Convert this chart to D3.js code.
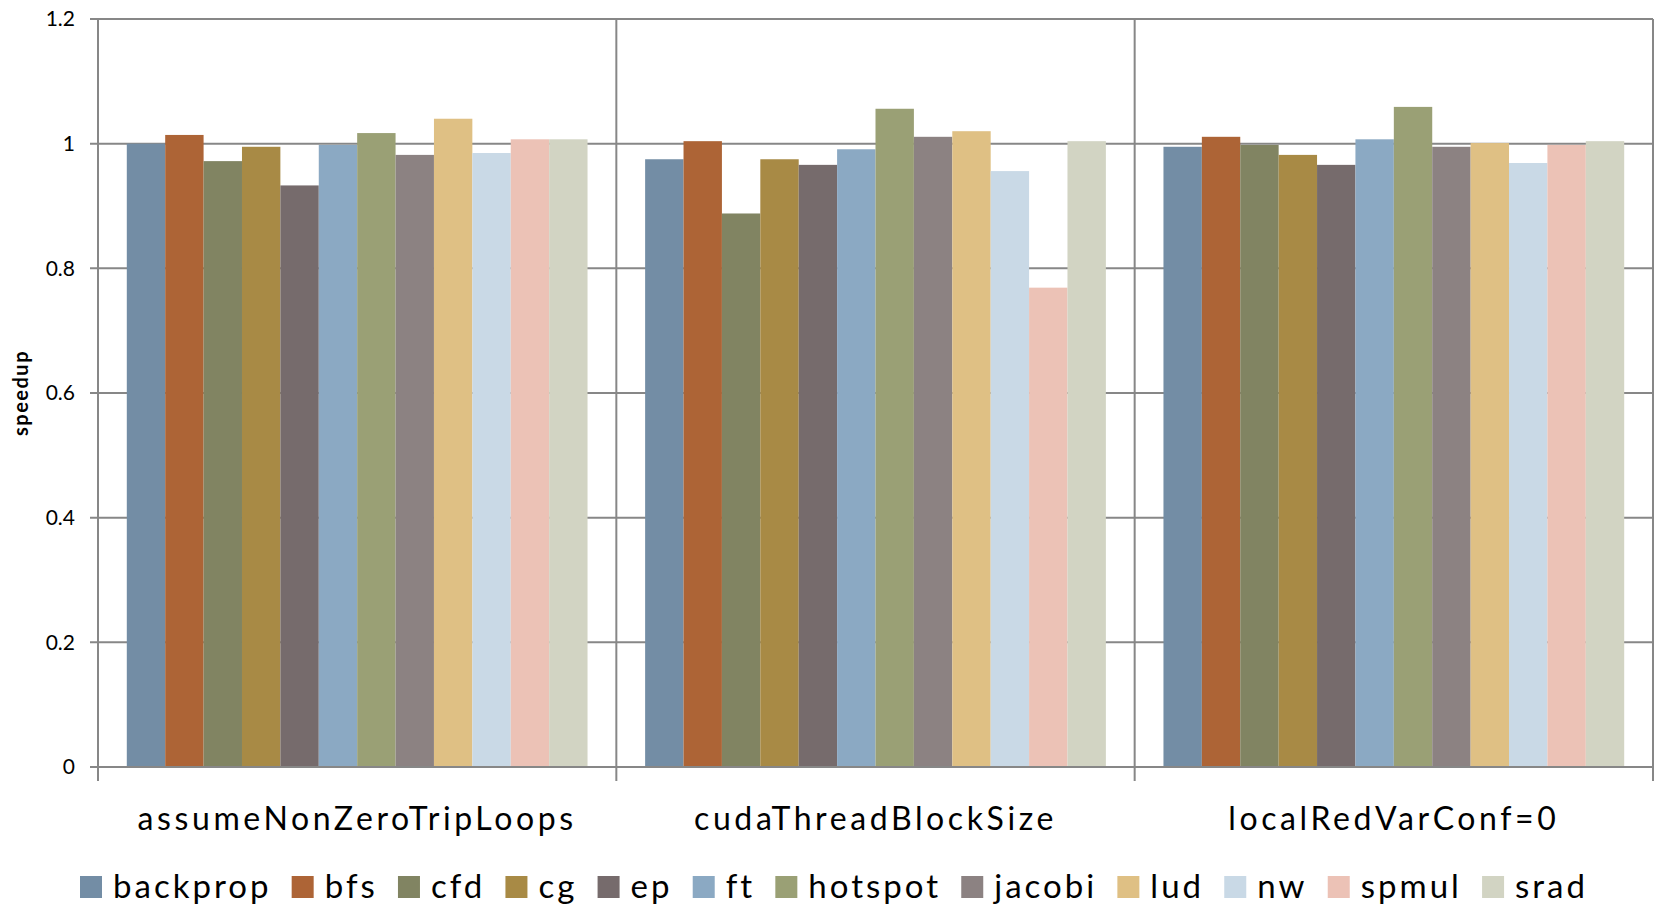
<!DOCTYPE html>
<html><head><meta charset="utf-8">
<script src="https://cdn.jsdelivr.net/npm/d3@7"></script>
<style>body{margin:0;background:#fff}svg{display:block}text{font-family:Lato,"Open Sans",sans-serif;fill:#000}</style>
</head><body>
<script>
const groups = ["assumeNonZeroTripLoops", "cudaThreadBlockSize", "localRedVarConf=0"];
const series = ["backprop","bfs","cfd","cg","ep","ft","hotspot","jacobi","lud","nw","spmul","srad"];
const colors = ["#738DA5","#AD6436","#818462","#A88A45","#766B6C","#8BA9C3","#9AA075","#8C8282","#DFC084","#C9D9E6","#ECC2B6","#D2D4C3"];
const valsAssume = [1.0, 1.014, 0.972, 0.995, 0.933, 0.998, 1.017, 0.982, 1.040, 0.985, 1.007, 1.007];
const valsCuda   = [0.975, 1.004, 0.888, 0.975, 0.966, 0.991, 1.056, 1.011, 1.020, 0.956, 0.769, 1.004];
const valsLocal  = [0.995, 1.011, 0.998, 0.982, 0.966, 1.007, 1.059, 0.995, 1.001, 0.969, 0.998, 1.004];
const yTicks = [0, 0.2, 0.4, 0.6, 0.8, 1, 1.2];
const yTitle = "speedup";

const values = [valsAssume, valsCuda, valsLocal];
const W = 1655, H = 914;
const svg = d3.select("body").append("svg").attr("width", W).attr("height", H);
const x0 = d3.scaleBand().domain(groups).range([98, 1653]).padding(0);
const x1 = d3.scaleBand().domain(series).range([0, x0.bandwidth()]).paddingInner(0).paddingOuter(0.75);
const y = d3.scaleLinear().domain([0, 1.2]).range([767, 19]);
const color = d3.scaleOrdinal().domain(series).range(colors);
const gridC = "#878787";

// gridlines
svg.append("g").selectAll("line").data(yTicks).join("line")
  .attr("x1", 90).attr("x2", 1653)
  .attr("y1", d => y(d)).attr("y2", d => y(d))
  .attr("stroke", gridC).attr("stroke-width", 2);
// vertical group separators
const bounds = groups.map(g => x0(g)).concat([x0.range()[1]]);
svg.append("g").selectAll("line").data(bounds).join("line")
  .attr("x1", d => d).attr("x2", d => d)
  .attr("y1", y(1.2)).attr("y2", 781)
  .attr("stroke", gridC).attr("stroke-width", 2);

// bars
const gg = svg.append("g").selectAll("g").data(groups).join("g")
  .attr("transform", g => `translate(${x0(g)},0)`);
gg.selectAll("rect").data((g, gi) => series.map((s, i) => ({s, v: values[gi][i]}))).join("rect")
  .attr("x", d => x1(d.s)).attr("width", x1.bandwidth())
  .attr("y", d => y(d.v)).attr("height", d => y(0) - y(d.v))
  .attr("fill", d => color(d.s));

// axis line redrawn on top
svg.append("line").attr("x1", 90).attr("x2", 1653).attr("y1", y(0)).attr("y2", y(0)).attr("stroke", gridC).attr("stroke-width", 2);

// y tick labels
svg.append("g").selectAll("text").data(yTicks).join("text")
  .attr("x", 75).attr("y", d => y(d)).attr("dy", "0.35em")
  .attr("text-anchor", "end").style("font-size", "21px")
  .text(d => d3.format("")(+d.toFixed(1)));

// y title
svg.append("text").attr("transform", "translate(28,393) rotate(-90)")
  .attr("text-anchor", "middle").style("font-size", "20px").style("font-weight", "bold")
  .style("letter-spacing", "1.5px").text(yTitle);

// category labels
svg.append("g").selectAll("text").data(groups).join("text")
  .attr("x", g => x0(g) + x0.bandwidth() / 2).attr("y", 830)
  .attr("text-anchor", "middle").style("font-size", "32px").style("letter-spacing", "3.6px").text(g => g);

// legend
const leg = svg.append("g");
const items = leg.selectAll("g").data(series).join("g");
items.append("rect").attr("width", 22).attr("height", 22).attr("y", 876).attr("fill", d => color(d));
items.append("text").attr("x", 33).attr("y", 898).style("font-size", "33px").style("letter-spacing", "3px").text(d => d);
const widths = [];
items.each(function(){ widths.push(33 + this.querySelector("text").getComputedTextLength()); });
const gap = (1508 - d3.sum(widths)) / (widths.length - 1);
let cx = 80;
items.attr("transform", (d, i) => { const t = `translate(${cx},0)`; cx += widths[i] + gap; return t; });
</script>
</body></html>
